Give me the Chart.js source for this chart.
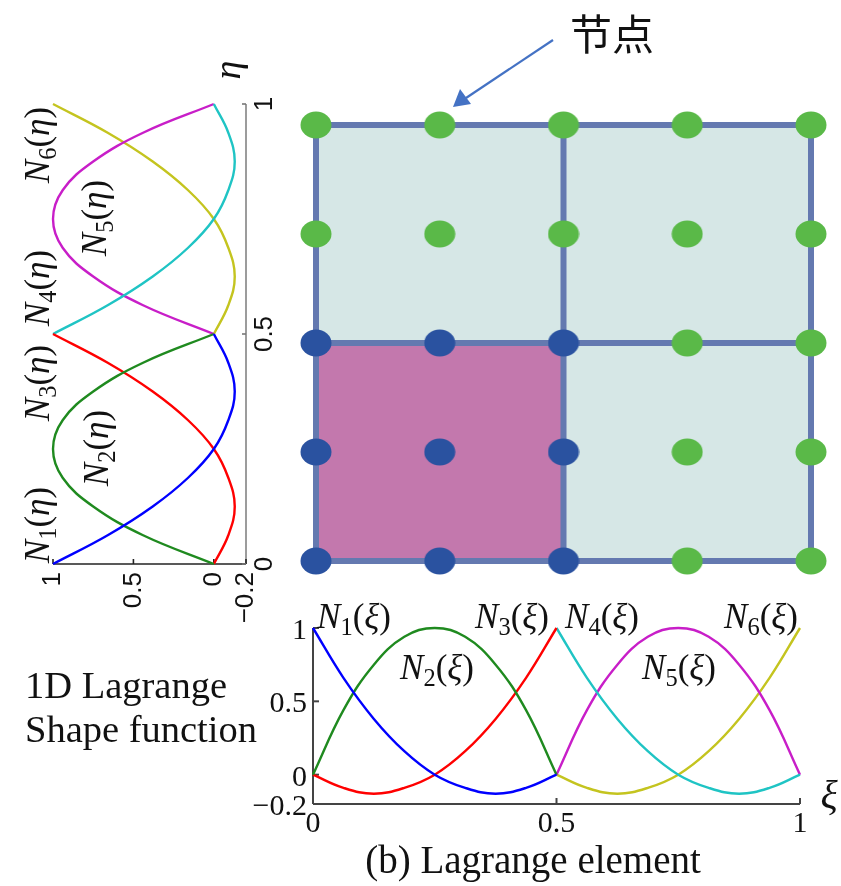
<!DOCTYPE html>
<html>
<head>
<meta charset="utf-8">
<script src="https://cdn.jsdelivr.net/npm/chart.js@4.4.0/dist/chart.umd.min.js"></script>
<style>
body { margin: 0; background: #fff; }
#wrap { position: relative; width: 841px; height: 886px; overflow: hidden; }
#wrap canvas { position: absolute; left: 0; top: 0; }
.lab { position: absolute; white-space: nowrap; font-family: "Liberation Serif", serif; line-height: 1; transform: translate(-50%, -50%); color: #111; }
.rot { transform: translate(-50%, -50%) rotate(-90deg); }
.nl { font-size: 35px; }
.nl sub { font-size: 70%; vertical-align: -0.3em; line-height: 0; }
.txt { position: absolute; white-space: nowrap; font-family: "Liberation Serif", serif; font-size: 38.5px; color: #111; }
</style>
</head>
<body>
<div id="wrap">
  <canvas id="mesh_canvas" width="841" height="886"></canvas>
  <canvas id="left_canvas" width="841" height="886"></canvas>
  <canvas id="bottom_canvas" width="841" height="886"></canvas>

  <svg style="position:absolute;left:0;top:0" width="841" height="886">
    <line x1="553" y1="40" x2="466" y2="98" stroke="#4472c4" stroke-width="2.2"/>
    <polygon points="453,107 460,89 471,104" fill="#4472c4"/>
  </svg>

  <div class="lab" style="left:612px;top:32px;font-family:'Noto Sans CJK SC';font-size:42px;">节点</div>

  <div class="lab rot" style="left:227px;top:70px;font-size:38px;"><i>η</i></div>
  <div class="lab" style="left:829px;top:795px;font-size:40px;"><i>ξ</i></div>

  <div class="lab nl rot" style="left:37px;top:145px;"><i>N</i><sub>6</sub>(<i>η</i>)</div>
  <div class="lab nl rot" style="left:94px;top:218px;"><i>N</i><sub>5</sub>(<i>η</i>)</div>
  <div class="lab nl rot" style="left:37px;top:288px;"><i>N</i><sub>4</sub>(<i>η</i>)</div>
  <div class="lab nl rot" style="left:37px;top:383px;"><i>N</i><sub>3</sub>(<i>η</i>)</div>
  <div class="lab nl rot" style="left:96px;top:448px;"><i>N</i><sub>2</sub>(<i>η</i>)</div>
  <div class="lab nl rot" style="left:37px;top:525px;"><i>N</i><sub>1</sub>(<i>η</i>)</div>

  <div class="lab nl" style="left:354px;top:616px;"><i>N</i><sub>1</sub>(<i>ξ</i>)</div>
  <div class="lab nl" style="left:437px;top:667px;"><i>N</i><sub>2</sub>(<i>ξ</i>)</div>
  <div class="lab nl" style="left:512px;top:616px;"><i>N</i><sub>3</sub>(<i>ξ</i>)</div>
  <div class="lab nl" style="left:602px;top:616px;"><i>N</i><sub>4</sub>(<i>ξ</i>)</div>
  <div class="lab nl" style="left:679px;top:667px;"><i>N</i><sub>5</sub>(<i>ξ</i>)</div>
  <div class="lab nl" style="left:761px;top:616px;"><i>N</i><sub>6</sub>(<i>ξ</i>)</div>

  <div class="txt" style="left:25px;top:663px;line-height:44px;">1D Lagrange<br>Shape function</div>
  <div class="txt" style="left:0;width:1066px;top:837px;text-align:center;font-size:39px;">(b) Lagrange element</div>
</div>

<script>
// sample positions along xi / eta, two quadratic elements
const xi_a = [0, 0.0625, 0.125, 0.1875, 0.25, 0.3125, 0.375, 0.4375, 0.5]
const xi_b = [0.5, 0.5625, 0.625, 0.6875, 0.75, 0.8125, 0.875, 0.9375, 1]

// shape function values
const n1 = [1, 0.66, 0.38, 0.16, 0, -0.09, -0.13, -0.09, 0]
const n2 = [0, 0.44, 0.75, 0.94, 1, 0.94, 0.75, 0.44, 0]
const n3 = [0, -0.09, -0.13, -0.09, 0, 0.16, 0.38, 0.66, 1]
const n4 = [1, 0.66, 0.38, 0.16, 0, -0.09, -0.13, -0.09, 0]
const n5 = [0, 0.44, 0.75, 0.94, 1, 0.94, 0.75, 0.44, 0]
const n6 = [0, -0.09, -0.13, -0.09, 0, 0.16, 0.38, 0.66, 1]

const curve_names = ["N1", "N2", "N3", "N4", "N5", "N6"]
const curve_colors = ["#0000ff", "#1f8a1f", "#ff0000", "#1fc4c4", "#c81ec8", "#c4c41f"]

const bottom_x_ticks = [0, 0.5, 1]
const bottom_y_ticks = [1, 0.5, 0, -0.2]
const left_n_ticks = [1, 0.5, 0, -0.2]
const left_eta_ticks = [0, 0.5, 1]

// mesh: node coordinates, element lines and cells [x0, x1, y0, y1]
const node_coords = [0, 0.25, 0.5, 0.75, 1]
const mesh_lines = [0, 0.5, 1]
const mesh_cells = [[0, 0.5, 0, 0.5], [0.5, 1, 0, 0.5], [0, 0.5, 0.5, 1], [0.5, 1, 0.5, 1]]
const active_cell = 0

function tick_text(v) {
  return v < 0 ? "\u2212" + String(-v) : String(v)
}

function curve_sets(swap) {
  const vals = [n1, n2, n3, n4, n5, n6]
  return vals.map((v, i) => {
    const xs = i < 3 ? xi_a : xi_b
    return {
      label: curve_names[i],
      data: xs.map((x, k) => swap ? { x: v[k], y: x } : { x: x, y: v[k] }),
      showLine: true,
      borderColor: curve_colors[i],
      borderWidth: 2.4,
      pointRadius: 0,
      tension: 0.4,
      clip: false,
    }
  })
}

function ellipse_img(color) {
  const c = document.createElement("canvas")
  c.width = 32; c.height = 28
  const g = c.getContext("2d")
  g.fillStyle = color
  g.beginPath()
  g.ellipse(16, 14, 15.5, 13.5, 0, 0, Math.PI * 2)
  g.fill()
  return c
}

function base_options(pad, xs, ys) {
  return {
    responsive: false,
    animation: false,
    layout: { padding: pad },
    plugins: { legend: { display: false }, tooltip: { enabled: false } },
    scales: { x: Object.assign({ type: "linear", display: false }, xs), y: Object.assign({ type: "linear", display: false }, ys) },
  }
}

function seg(ctx, x1, y1, x2, y2) {
  ctx.beginPath(); ctx.moveTo(x1, y1); ctx.lineTo(x2, y2); ctx.stroke()
}

// ---------- mesh ----------
const green_dot = ellipse_img("#5ab948")
const blue_dot = ellipse_img("#2a52a0")

var green_nodes = [], blue_nodes = []
node_coords.forEach(y => node_coords.forEach(x => {
  if (x <= 0.5 && y <= 0.5) blue_nodes.push({ x: x, y: y })
  else green_nodes.push({ x: x, y: y })
}))

var line_sets = []
mesh_lines.forEach(p => {
  line_sets.push({ data: [{ x: p, y: 0 }, { x: p, y: 1 }] })
  line_sets.push({ data: [{ x: 0, y: p }, { x: 1, y: p }] })
})
line_sets = line_sets.map(s => Object.assign(s, {
  showLine: true, borderColor: "#6479b0", borderWidth: 6, borderCapStyle: "square",
  pointRadius: 0, clip: false, order: 2,
}))

const mesh_fill = {
  id: "mesh_fill",
  beforeDatasetsDraw(chart) {
    const ctx = chart.ctx, x = chart.scales.x, y = chart.scales.y
    ctx.save()
    mesh_cells.forEach((c, i) => {
      ctx.fillStyle = i === active_cell ? "#c378ad" : "#d6e7e6"
      const px0 = x.getPixelForValue(c[0]), px1 = x.getPixelForValue(c[1])
      const py0 = y.getPixelForValue(c[2]), py1 = y.getPixelForValue(c[3])
      ctx.fillRect(px0, py1, px1 - px0, py0 - py1)
    })
    ctx.restore()
  }
}

new Chart(document.getElementById("mesh_canvas").getContext("2d"), {
  type: "scatter",
  data: {
    datasets: [
      { data: green_nodes, pointStyle: green_dot, pointRadius: 10, clip: false, order: 0 },
      { data: blue_nodes, pointStyle: blue_dot, pointRadius: 10, clip: false, order: 0 },
    ].concat(line_sets)
  },
  options: base_options({ left: 316, right: 30, top: 125, bottom: 325 }, { min: 0, max: 1 }, { min: 0, max: 1 }),
  plugins: [mesh_fill],
})

// ---------- left (rotated) shape functions ----------
const left_axes = {
  id: "left_axes",
  beforeDatasetsDraw(chart) {
    const ctx = chart.ctx, x = chart.scales.x, y = chart.scales.y
    const ax = x.getPixelForValue(-0.2), ay = y.getPixelForValue(0)
    ctx.save()
    ctx.lineWidth = 2
    ctx.strokeStyle = "#9c9c9c"
    seg(ctx, ax, y.getPixelForValue(1), ax, ay)
    ctx.strokeStyle = "#222"
    ctx.lineWidth = 1.6
    seg(ctx, x.getPixelForValue(1), ay, ax, ay)
    left_n_ticks.forEach(v => { const px = x.getPixelForValue(v); seg(ctx, px, ay, px, ay - 5) })
    ctx.strokeStyle = "#777"
    left_eta_ticks.forEach(v => { const py = y.getPixelForValue(v); seg(ctx, ax, py, ax - 4, py) })

    ctx.fillStyle = "#111"
    ctx.font = "26px 'Liberation Sans'"
    ctx.textBaseline = "middle"
    left_n_ticks.forEach(v => {
      ctx.save()
      ctx.translate(x.getPixelForValue(v), ay + 8)
      ctx.rotate(-Math.PI / 2)
      ctx.textAlign = "right"
      ctx.fillText(tick_text(v), 0, 0)
      ctx.restore()
    })
    left_eta_ticks.forEach(v => {
      ctx.save()
      ctx.translate(ax + 19, y.getPixelForValue(v))
      ctx.rotate(-Math.PI / 2)
      ctx.textAlign = "center"
      ctx.fillText(tick_text(v), 0, 0)
      ctx.restore()
    })
    ctx.restore()
  }
}

new Chart(document.getElementById("left_canvas").getContext("2d"), {
  type: "scatter",
  data: { datasets: curve_sets(true) },
  options: base_options({ left: 53, right: 595, top: 104, bottom: 322 }, { min: -0.2, max: 1, reverse: true }, { min: 0, max: 1 }),
  plugins: [left_axes],
})

// ---------- bottom shape functions ----------
const bottom_axes = {
  id: "bottom_axes",
  beforeDatasetsDraw(chart) {
    const ctx = chart.ctx, x = chart.scales.x, y = chart.scales.y
    const ax = x.getPixelForValue(0), ay = y.getPixelForValue(-0.2)
    ctx.save()
    ctx.strokeStyle = "#444"
    ctx.lineWidth = 2
    seg(ctx, ax, y.getPixelForValue(1), ax, ay)
    seg(ctx, ax, ay, x.getPixelForValue(1), ay)
    bottom_x_ticks.forEach(v => { const px = x.getPixelForValue(v); seg(ctx, px, ay, px, ay - 6) })
    bottom_y_ticks.forEach(v => { const py = y.getPixelForValue(v); seg(ctx, ax, py, ax + 6, py) })

    ctx.fillStyle = "#111"
    ctx.font = "30px 'Liberation Serif'"
    ctx.textAlign = "right"
    ctx.textBaseline = "middle"
    bottom_y_ticks.forEach(v => ctx.fillText(tick_text(v), ax - 6, y.getPixelForValue(v) + 3))
    ctx.textAlign = "center"
    ctx.textBaseline = "alphabetic"
    bottom_x_ticks.forEach(v => ctx.fillText(tick_text(v), x.getPixelForValue(v), ay + 28))
    ctx.restore()
  }
}

new Chart(document.getElementById("bottom_canvas").getContext("2d"), {
  type: "scatter",
  data: { datasets: curve_sets(false) },
  options: base_options({ left: 313, right: 41, top: 628, bottom: 82 }, { min: 0, max: 1 }, { min: -0.2, max: 1 }),
  plugins: [bottom_axes],
})
</script>
</body>
</html>
